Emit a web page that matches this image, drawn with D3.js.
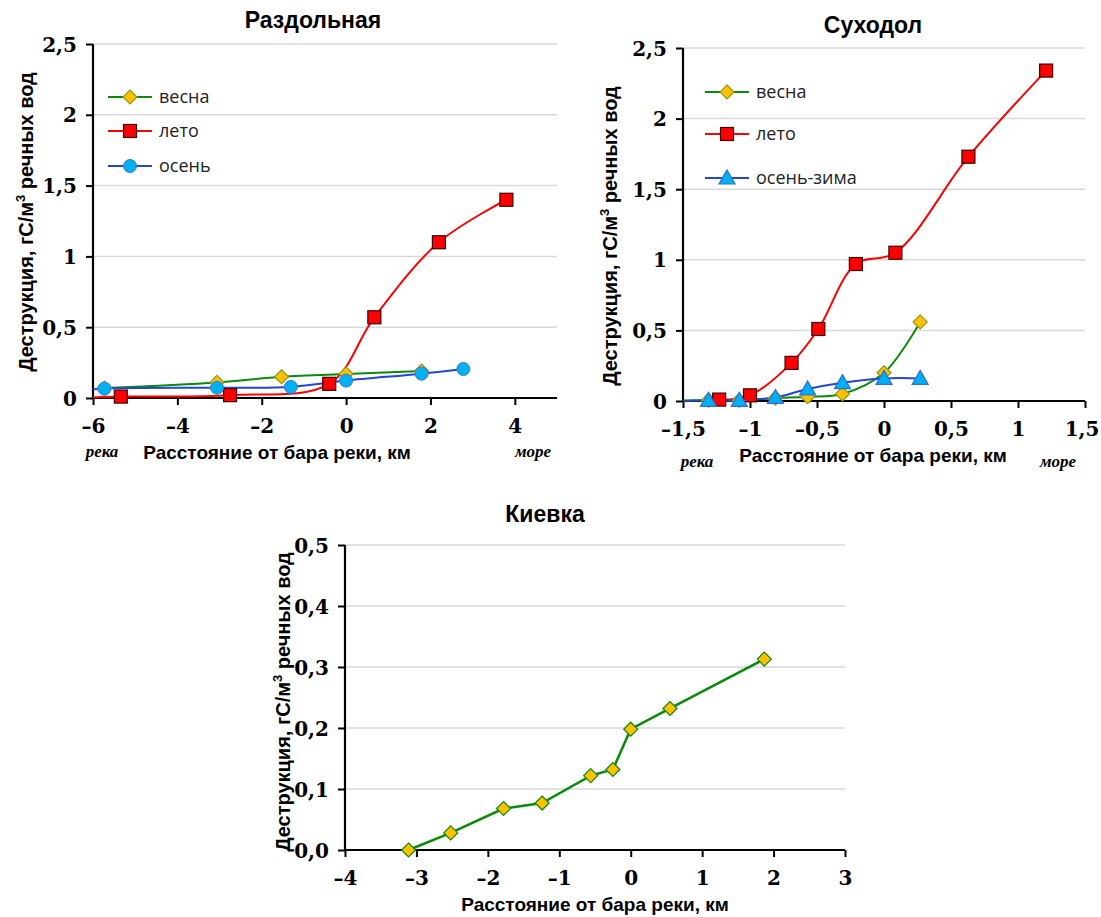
<!DOCTYPE html>
<html>
<head>
<meta charset="utf-8">
<script src="https://cdn.jsdelivr.net/npm/d3@7"></script>
<style>
  body { margin: 0; background: #fff; }
  text { fill: #000; }
</style>
</head>
<body>
<svg id="chart" width="1101" height="917"></svg>
<script>
// Раздольная
var razdVesna = [[-5.73, 0.07], [-3.06, 0.11], [-1.53, 0.15], [0, 0.17], [1.79, 0.19]]
var razdLeto = [[-6.4, 0.0], [-5.34, 0.01], [-2.75, 0.02], [-0.4, 0.1], [0.67, 0.57], [2.2, 1.1], [3.8, 1.4]]
var razdOsen = [[-6.4, 0.05], [-5.73, 0.066], [-3.06, 0.073], [-1.31, 0.078], [0, 0.123], [1.79, 0.172], [2.78, 0.205]]
var razdXTicks = [-6, -4, -2, 0, 2, 4]
var razdYTicks = [0, 0.5, 1, 1.5, 2, 2.5]

// Суходол
var sukhVesna = [[-1.6, 0], [-1.31, 0.005], [-1.08, 0.005], [-0.81, 0.02], [-0.57, 0.03], [-0.31, 0.05], [0, 0.2], [0.27, 0.56]]
var sukhLeto = [[-1.23, 0.01], [-1.0, 0.04], [-0.69, 0.27], [-0.49, 0.51], [-0.21, 0.97], [0.085, 1.05], [0.63, 1.73], [1.21, 2.34]]
var sukhOsenZima = [[-1.6, 0], [-1.31, 0.005], [-1.08, 0.005], [-0.81, 0.025], [-0.57, 0.085], [-0.31, 0.13], [0, 0.16], [0.27, 0.16]]
var sukhXTicks = [-1.5, -1, -0.5, 0, 0.5, 1, 1.5]
var sukhYTicks = [0, 0.5, 1, 1.5, 2, 2.5]

// Киевка
var kievVesna = [[-3.11, 0.0], [-2.52, 0.028], [-1.78, 0.068], [-1.24, 0.077], [-0.56, 0.122], [-0.25, 0.132], [0, 0.198], [0.55, 0.232], [1.87, 0.313]]
var kievXTicks = [-4, -3, -2, -1, 0, 1, 2, 3]
var kievYTicks = [0, 0.1, 0.2, 0.3, 0.4, 0.5]

var green = "#0a8a0a", red = "#ff0000", blue = "#2345d0"
var gold = "#ffc000", cyan = "#00b0f0"
var sansBold = "'Liberation Sans', Arial, sans-serif"
var serif = "'Liberation Serif', 'DejaVu Serif', serif"
var tickFont = "'DejaVu Serif', 'Liberation Serif', serif"

var svg = d3.select("#chart")

function fmt(v, fixed){
    var s = fixed ? v.toFixed(1) : String(v)
    return s.replace(".", ",").replace("-", "–")
}

function marker(g, type, x, y, fill, stroke){
    if(type == "square"){
        g.append("rect").attr("x", x-6.5).attr("y", y-6.5).attr("width", 13).attr("height", 13)
            .style("fill", fill).style("stroke", stroke).style("stroke-width", 1.2)
    } else if(type == "diamond"){
        g.append("path").attr("d", "M"+x+","+(y-7)+"L"+(x+7)+","+y+"L"+x+","+(y+7)+"L"+(x-7)+","+y+"Z")
            .style("fill", fill).style("stroke", stroke).style("stroke-width", 1.2)
    } else if(type == "circle"){
        g.append("circle").attr("cx", x).attr("cy", y).attr("r", 6.5)
            .style("fill", fill).style("stroke", stroke).style("stroke-width", 1)
    } else if(type == "triangle"){
        g.append("path").attr("d", "M"+x+","+(y-8)+"L"+(x+8)+","+(y+6)+"L"+(x-8)+","+(y+6)+"Z")
            .style("fill", fill).style("stroke", stroke).style("stroke-width", 1.2)
    }
}

function drawChart(c){
    var x = d3.scaleLinear().domain(c.xDomain).range([c.left, c.right])
    var y = d3.scaleLinear().domain(c.yDomain).range([c.bottom, c.top])
    var g = svg.append("g")

    // gridlines
    g.selectAll(".grid").data(c.yTicks.filter(function(d){ return d > 0 })).enter()
        .append("line").attr("x1", c.left).attr("x2", c.right)
        .attr("y1", function(d){ return y(d) }).attr("y2", function(d){ return y(d) })
        .style("stroke", "#d9d9d9").style("stroke-width", 1.5)

    // axes
    var yAxis = g.append("g").attr("transform", "translate("+c.left+",0)")
        .call(d3.axisLeft(y).tickValues(c.yTicks).tickSize(7).tickFormat(function(d){ return fmt(d, c.fixedY) }))
    var xAxis = g.append("g").attr("transform", "translate(0,"+c.bottom+")")
        .call(d3.axisBottom(x).tickValues(c.xTicks).tickSize(7).tickFormat(function(d){ return fmt(d, false) }))
    ;[xAxis, yAxis].forEach(function(a){
        a.attr("font-family", tickFont).attr("font-size", 20).attr("font-weight", "bold")
        a.select(".domain").style("stroke", "#000").style("stroke-width", 2.2)
        a.selectAll(".tick line").style("stroke", "#000").style("stroke-width", 2)
        a.selectAll(".tick text").style("font-family", tickFont).style("font-weight", "bold").style("font-size", "20px")
    })
    xAxis.select(".domain").attr("d", "M"+c.left+",0H"+c.right)
    yAxis.select(".domain").attr("d", "M0,"+c.bottom+"V"+c.top)
    yAxis.selectAll(".tick text").attr("x", -16).attr("dy", "0.35em")
    xAxis.selectAll(".tick text").attr("y", 21)
    // keep the last label inside the page
    xAxis.selectAll(".tick text").each(function(d){
        var over = x(d) + this.getComputedTextLength()/2 - 1099
        if(over > 0) d3.select(this).attr("x", -over)
    })

    // clip
    var clipId = "clip" + c.id
    svg.append("clipPath").attr("id", clipId).append("rect")
        .attr("x", c.left).attr("y", c.top - 20).attr("width", c.right - c.left).attr("height", c.bottom - c.top + 30)

    c.series.forEach(function(s){
        var line = d3.line().x(function(d){ return x(d[0]) }).y(function(d){ return y(d[1]) })
            .curve(s.smooth ? d3.curveCatmullRom.alpha(0.5) : d3.curveLinear)
        g.append("path").datum(s.data).attr("d", line).attr("clip-path", "url(#"+clipId+")")
            .style("fill", "none").style("stroke", s.color).style("stroke-width", s.width || 2)
    })
    c.series.forEach(function(s){
        var mg = g.append("g")
        s.data.filter(function(d){ return d[0] >= c.xDomain[0] && d[0] <= c.xDomain[1] }).forEach(function(d){
            marker(mg, s.marker, x(d[0]), y(d[1]), s.fill, s.stroke)
        })
    })

    // legend
    if(c.legend){
        c.series.forEach(function(s, i){
            var ly = c.legend.y[i]
            var lg = g.append("g")
            lg.append("line").attr("x1", c.legend.x).attr("x2", c.legend.x + 44).attr("y1", ly).attr("y2", ly)
                .style("stroke", s.color).style("stroke-width", 2)
            marker(lg, s.marker, c.legend.x + 22, ly, s.fill, s.stroke)
            lg.append("text").attr("x", c.legend.x + 51).attr("y", ly).attr("dy", "0.35em")
                .style("font-family", "'Open Sans', sans-serif").style("font-size", "18px").style("fill", "#222").text(s.name)
        })
    }

    // titles
    g.append("text").attr("x", c.titleX).attr("y", c.titleY).attr("text-anchor", "middle")
        .style("font-family", sansBold).style("font-weight", "bold").style("font-size", "23px").text(c.title)
    g.append("text").attr("x", c.xTitleX).attr("y", c.xTitleY).attr("text-anchor", "middle")
        .style("font-family", sansBold).style("font-weight", "bold").style("font-size", "19px")
        .text("Расстояние от бара реки, км")
    var yt = g.append("text").attr("transform", "translate("+c.yTitleX+","+c.yTitleY+") rotate(-90)")
        .attr("text-anchor", "middle")
        .style("font-family", sansBold).style("font-weight", "bold").style("font-size", "20px")
    yt.append("tspan").text("Деструкция, гС/м")
    yt.append("tspan").attr("dy", -8).style("font-size", "13px").text("3")
    yt.append("tspan").attr("dy", 8).text(" речных вод")

    if(c.reka){
        g.append("text").attr("x", c.reka[0]).attr("y", c.reka[1]).attr("text-anchor", "middle")
            .style("font-family", serif).style("font-style", "italic").style("font-weight", "bold").style("font-size", "17px").text("река")
        g.append("text").attr("x", c.more[0]).attr("y", c.more[1]).attr("text-anchor", "middle")
            .style("font-family", serif).style("font-style", "italic").style("font-weight", "bold").style("font-size", "17px").text("море")
    }
}

drawChart({
    id: 1, title: "Раздольная", titleX: 313, titleY: 28,
    left: 93, right: 557, top: 44, bottom: 398,
    xDomain: [-6, 5], yDomain: [0, 2.5], xTicks: razdXTicks, yTicks: razdYTicks,
    xTitleX: 277, xTitleY: 459, yTitleX: 33, yTitleY: 222,
    reka: [102, 457], more: [533, 457],
    legend: {x: 108, y: [97, 131, 166]},
    series: [
        {name: "весна", data: razdVesna, color: green, marker: "diamond", fill: gold, stroke: "#8a9a10", smooth: true},
        {name: "лето", data: razdLeto, color: red, marker: "square", fill: red, stroke: "#400000", smooth: true},
        {name: "осень", data: razdOsen, color: blue, marker: "circle", fill: cyan, stroke: "#3a7ad8", smooth: true}
    ]
})

drawChart({
    id: 2, title: "Суходол", titleX: 873, titleY: 33,
    left: 683, right: 1085, top: 48, bottom: 401,
    xDomain: [-1.5, 1.5], yDomain: [0, 2.5], xTicks: sukhXTicks, yTicks: sukhYTicks,
    xTitleX: 873, xTitleY: 462, yTitleX: 617, yTitleY: 236,
    reka: [697, 467], more: [1058, 467],
    legend: {x: 705, y: [92, 134, 178]},
    series: [
        {name: "весна", data: sukhVesna, color: green, marker: "diamond", fill: gold, stroke: "#8a9a10", smooth: true},
        {name: "лето", data: sukhLeto, color: red, marker: "square", fill: red, stroke: "#400000", smooth: true},
        {name: "осень-зима", data: sukhOsenZima, color: blue, marker: "triangle", fill: cyan, stroke: "#2f6ad8", smooth: true}
    ]
})

drawChart({
    id: 3, title: "Киевка", titleX: 545, titleY: 522,
    left: 345, right: 845, top: 545, bottom: 850,
    xDomain: [-4, 3], yDomain: [0, 0.5], xTicks: kievXTicks, yTicks: kievYTicks, fixedY: true,
    xTitleX: 595, xTitleY: 911, yTitleX: 290, yTitleY: 702,
    series: [
        {name: "весна", data: kievVesna, color: green, marker: "diamond", fill: gold, stroke: green, smooth: false, width: 2.5}
    ]
})
</script>
</body>
</html>
